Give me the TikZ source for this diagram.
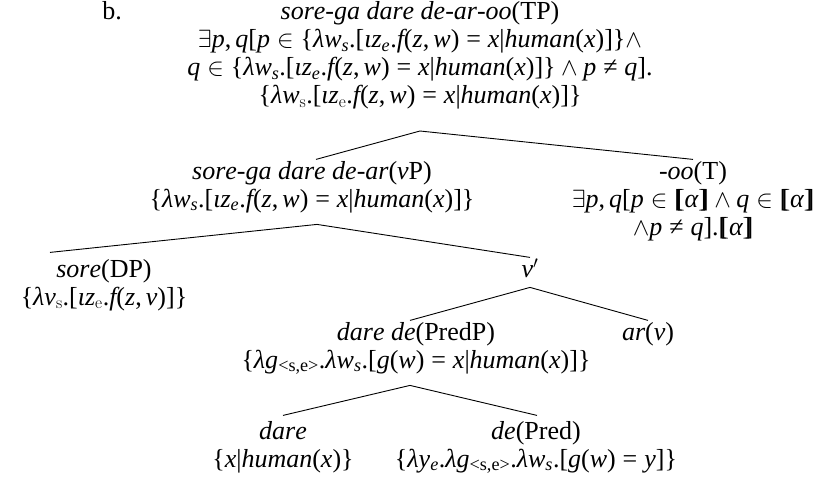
\documentclass[tikz,border=0pt]{standalone}
\usepackage{amsmath}
\usepackage[no-math]{fontspec}
\setmainfont{Liberation Serif}[NFSSFamily=lserif]
\usetikzlibrary{calc}
\DeclareSymbolFont{tletters}{TU}{lserif}{m}{it}
\DeclareSymbolFont{tupright}{TU}{lserif}{m}{n}
\makeatletter
\AtBeginDocument{%
  \count@=`a
  \loop \Umathcode\count@="7 \symtletters \count@
    \ifnum\count@<`z \advance\count@ 1 \repeat
  \count@=`A
  \loop \Umathcode\count@="7 \symtletters \count@
    \ifnum\count@<`Z \advance\count@ 1 \repeat
  \Umathcode`(="4 \symtupright "28
  \Umathcode`)="5 \symtupright "29
  \Umathcode`[="4 \symtupright "5B
  \Umathcode`]="5 \symtupright "5D
  \Umathcode`|="0 \symtupright "7C
  \Umathcode`=="3 \symtupright "3D
  \Umathcode`,="6 \symtupright "2C
  \Umathcode`.="0 \symtupright "2E
  \Umathchardef\lambda="7 \symtletters "03BB
  \Umathchardef\alpha="7 \symtletters "03B1
  \Umathchardef\iota="7 \symtletters "03B9
  \Umathchardef\neq="3 \symtupright "2260
  \Umathchardef\lb="4 \symtupright "7B
  \Umathchardef\rb="5 \symtupright "7D
}
\makeatother
\newcommand{\lbb}{[\mkern-5mu[}
\newcommand{\rbb}{]\mkern-5mu]}
\begin{document}
\begin{tikzpicture}[x=1pt,y=-1pt,
  lab/.style={align=center,inner sep=0pt,anchor=north,
    font=\fontsize{26}{28}\selectfont},
  branch/.style={line width=0.9pt}]
\useasboundingbox (0,0) rectangle (825,480);
\node[lab] (b) at (112,0) {\strut b.};
\node[lab] (root) at (420,0) {\strut$sore$-$ga$ $dare$ $de$-$ar$-$oo$(TP)\\
  \strut$\exists p,q[p\in\lb\lambda w_s.[\iota z_e.f(z,w)=x|human(x)]\rb\wedge$\\
  \strut$q\in\lb\lambda w_s.[\iota z_e.f(z,w)=x|human(x)]\rb\wedge p\neq q].$\\
  \strut$\lb\lambda w_{\mathrm{s}}.[\iota z_{\mathrm{e}}.f(z,w)=x|human(x)]\rb$};
\node[lab] (vp) at (312,159.4) {\strut$sore$-$ga$ $dare$ $de$-$ar$($v$P)\\
  \strut$\lb\lambda w_s.[\iota z_e.f(z,w)=x|human(x)]\rb$};
\node[lab] (t) at (693,159.4) {\strut-$oo$(T)\\
  \strut$\exists p,q[p\in\lbb\alpha\rbb\wedge q\in\lbb\alpha\rbb$\\
  \strut$\wedge p\neq q].\lbb\alpha\rbb$};
\node[lab] (dp) at (104,257.4) {\strut$sore$(DP)\\
  \strut$\lb\lambda v_{\mathrm{s}}.[\iota z_{\mathrm{e}}.f(z,v)]\rb$};
\node[lab] (vbar) at (530,257.4) {\strut$v'$};
\node[lab] (predp) at (416,320.4) {\strut$dare$ $de$(PredP)\\
  \strut$\lb\lambda g_{\text{<s,e>}}.\lambda w_s.[g(w)=x|human(x)]\rb$};
\node[lab] (ar) at (648,320.4) {\strut$ar(v)$};
\node[lab] (dare) at (283,419.4) {\strut$dare$\\
  \strut$\lb x|human(x)\rb$};
\node[lab] (de) at (536,419.4) {\strut$de$(Pred)\\
  \strut$\lb\lambda y_e.\lambda g_{\text{<s,e>}}.\lambda w_s.[g(w)=y]\rb$};
\draw[branch] ($(vp.north)+(4,0)$) -- ($(root.south)+(0,18.6)$) -- (t.north);
\draw[branch] ($(dp.north)+(-54,-5)$) -- ($(vp.south)+(5,8.6)$) -- (vbar.north);
\draw[branch] ($(predp.north)+(-6,0)$) -- ($(vbar.south)+(0,1.6)$) -- (ar.north);
\draw[branch] ($(dare.north)+(0,-4)$) -- ($(predp.south)+(-6,8.6)$) -- ($(de.north)+(1,-4)$);
\end{tikzpicture}
\end{document}
